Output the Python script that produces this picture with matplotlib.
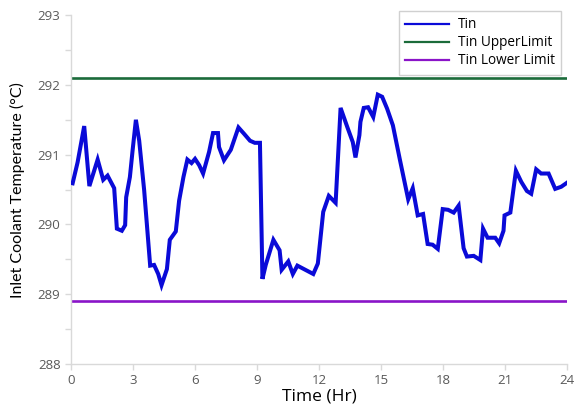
import numpy as np
import matplotlib
matplotlib.use("Agg")
import matplotlib.pyplot as plt
from matplotlib.lines import Line2D

# time (hr) and inlet coolant temperature (C)
time_hr = [0.08, 0.32, 0.64, 0.89, 1.29, 1.56, 1.77, 2.09, 2.22, 2.46, 2.62, 2.67,
           2.85, 2.98, 3.14, 3.30, 3.54, 3.83, 4.02, 4.22, 4.38, 4.64, 4.78, 5.07,
           5.23, 5.44, 5.63, 5.83, 6.00, 6.20, 6.39, 6.68, 6.87, 7.11, 7.16, 7.40,
           7.73, 8.10, 8.37, 8.66, 8.89, 9.14, 9.26, 9.42, 9.79, 10.09, 10.19, 10.51,
           10.73, 10.95, 11.72, 11.94, 12.20, 12.47, 12.80, 13.04, 13.36, 13.63, 13.76,
           13.95, 14.00, 14.16, 14.37, 14.62, 14.84, 15.05, 15.29, 15.57, 15.90, 16.31,
           16.53, 16.77, 17.03, 17.25, 17.49, 17.74, 17.98, 18.24, 18.51, 18.75, 18.99,
           19.15, 19.48, 19.80, 19.93, 20.15, 20.52, 20.71, 20.92, 20.97, 21.25, 21.52,
           21.78, 22.05, 22.26, 22.50, 22.74, 23.10, 23.42, 23.71, 24.0]
tin = [290.59, 290.89, 291.41, 290.55, 290.93, 290.64, 290.70, 290.52, 289.94, 289.91,
       289.99, 290.39, 290.68, 291.06, 291.50, 291.20, 290.49, 289.41, 289.42, 289.29,
       289.13, 289.36, 289.78, 289.90, 290.34, 290.68, 290.93, 290.88, 290.94, 290.85,
       290.73, 291.04, 291.31, 291.31, 291.11, 290.92, 291.07, 291.39, 291.30, 291.20,
       291.17, 291.17, 289.22, 289.42, 289.78, 289.63, 289.35, 289.47, 289.29, 289.41,
       289.29, 289.44, 290.18, 290.41, 290.31, 291.67, 291.40, 291.18, 290.96, 291.28,
       291.47, 291.67, 291.68, 291.54, 291.86, 291.83, 291.66, 291.42, 290.94, 290.36,
       290.52, 290.13, 290.15, 289.72, 289.71, 289.65, 290.22, 290.21, 290.17, 290.27,
       289.66, 289.54, 289.55, 289.49, 289.94, 289.81, 289.81, 289.73, 289.91, 290.13,
       290.17, 290.77, 290.61, 290.48, 290.44, 290.79, 290.73, 290.73, 290.51, 290.54,
       290.60]
upper_limit = 292.1
lower_limit = 288.9
x_ticks = [0, 3, 6, 9, 12, 15, 18, 21, 24]
y_ticks = [288, 289, 290, 291, 292, 293]

blue = "#0A0AD8"
green = "#1B6B3A"
purple = "#8A14C8"
grey = "#595959"

fig = plt.figure(figsize=(5.77, 4.09), dpi=100)
ax = fig.add_axes([0.123, 0.110, 0.860, 0.853])

ax.plot(time_hr, tin, color=blue, lw=2.9, solid_joinstyle="miter", zorder=3)
ax.axhline(upper_limit, color=green, lw=1.9)
ax.axhline(lower_limit, color=purple, lw=1.9)

ax.set_xlim(0, 24)
ax.set_ylim(288, 293)
ax.set_xticks(x_ticks)
ax.set_yticks(y_ticks)
ax.set_yticks(np.arange(288.5, 293, 1.0), minor=True)

for s in ["top", "right"]:
    ax.spines[s].set_visible(False)
for s in ["left", "bottom"]:
    ax.spines[s].set_color("#d9d9d9")
    ax.spines[s].set_linewidth(1.0)

ax.tick_params(axis="both", which="both", color="#d9d9d9", length=4, width=1,
               labelsize=9.5, labelcolor=grey)
for lab in ax.get_xticklabels() + ax.get_yticklabels():
    lab.set_family("Open Sans")

ax.set_xlabel("Time (Hr)", family="Open Sans", fontsize=12.5, color="black", labelpad=1)
ax.set_ylabel("Inlet Coolant Temperature (°C)", family="Lato", fontsize=11.5,
              color="black", labelpad=9)

handles = [Line2D([], [], color=blue, lw=1.6),
           Line2D([], [], color=green, lw=1.6),
           Line2D([], [], color=purple, lw=1.6)]
leg = ax.legend(handles, ["Tin", "Tin UpperLimit", "Tin Lower Limit"],
                loc="upper right", bbox_to_anchor=(0.988, 1.011), borderaxespad=0,
                fancybox=False, framealpha=1, edgecolor="#d0d0d0", handlelength=3.2,
                labelspacing=0.22, borderpad=0.45, handletextpad=0.7,
                prop={"family": "Open Sans", "size": 9.8})
leg.get_frame().set_linewidth(1.0)

fig.savefig("out.png", dpi=100)
